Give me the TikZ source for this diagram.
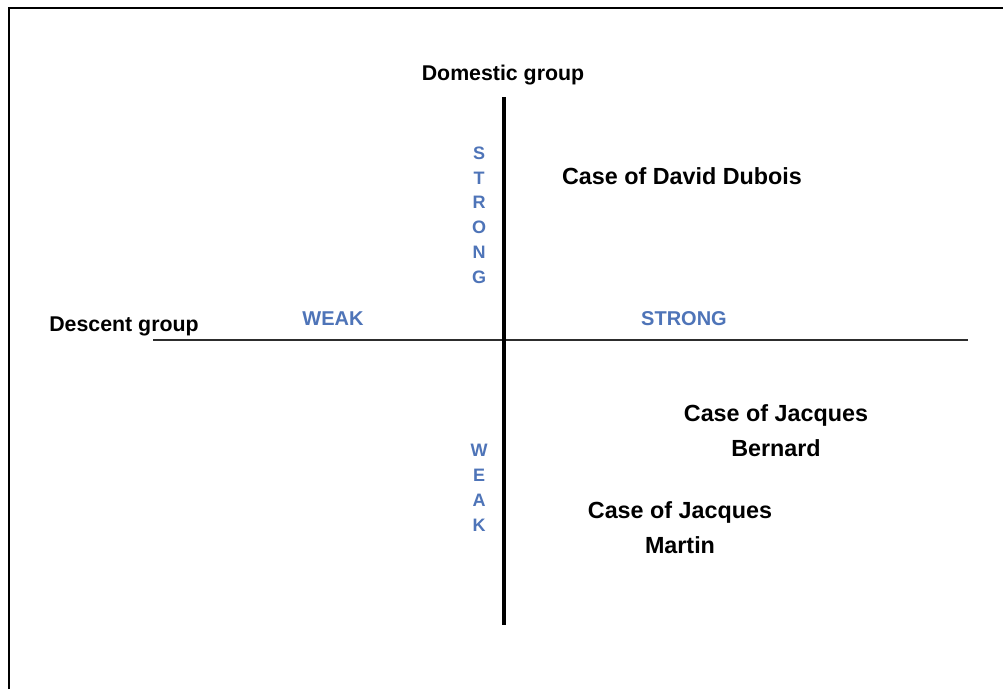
\documentclass[tikz,border=0pt]{standalone}
\usepackage{fontspec}
\setmainfont{Liberation Sans}
\definecolor{axisblue}{RGB}{78,116,184}
\definecolor{axisgray}{RGB}{45,45,45}
\begin{document}
\begin{tikzpicture}[x=0.75pt,y=-0.75pt,
  lbl/.style={inner sep=0pt,font=\fontsize{16}{18}\selectfont\bfseries},
  bluelbl/.style={inner sep=0pt,text=axisblue,font=\fontsize{15}{18}\selectfont\bfseries},
  vlbl/.style={inner sep=0pt,text=axisblue,align=center,font=\fontsize{13.5}{18.6}\selectfont\bfseries},
  caselbl/.style={inner sep=0pt,align=center,font=\fontsize{17.5}{26.25}\selectfont\bfseries},
  frameline/.style={line width=2.2pt,black},
  hline/.style={line width=1.6pt,axisgray},
  vline/.style={line width=3pt,black}]
\useasboundingbox (0,0) rectangle (1003,689);
\fill[white] (0,0) rectangle (1003,689);
% frame
\coordinate (fbl) at (9,689);
\coordinate (ftl) at (9,8);
\coordinate (ftr) at (1003,8);
\draw[frameline] (fbl) -- (ftl) -- (ftr);
% axes
\coordinate (hl) at (153,340);
\coordinate (hr) at (968,340);
\coordinate (vt) at (504,97);
\coordinate (vb) at (504,625);
\draw[hline] (hl) -- (hr);
\draw[vline] (vt) -- (vb);
% labels
\node[lbl] (dom) at (503,75) {Domestic group};
\node[lbl] (desc) at (124,326) {Descent group};
\node[bluelbl] (hweak) at (333,319) {WEAK};
\node[bluelbl] (hstrong) at (684,319) {STRONG};
\node[vlbl] (vstrong) at (479,215) {S\\T\\R\\O\\N\\G};
\node[vlbl] (vweak) at (479,488) {W\\E\\A\\K};
% cases
\node[caselbl] (dubois) at (682,176) {Case of David Dubois};
\node[caselbl] (bernard) at (776,431) {Case of Jacques\\Bernard};
\node[caselbl] (martin) at (680,528) {Case of Jacques\\Martin};
\end{tikzpicture}
\end{document}
